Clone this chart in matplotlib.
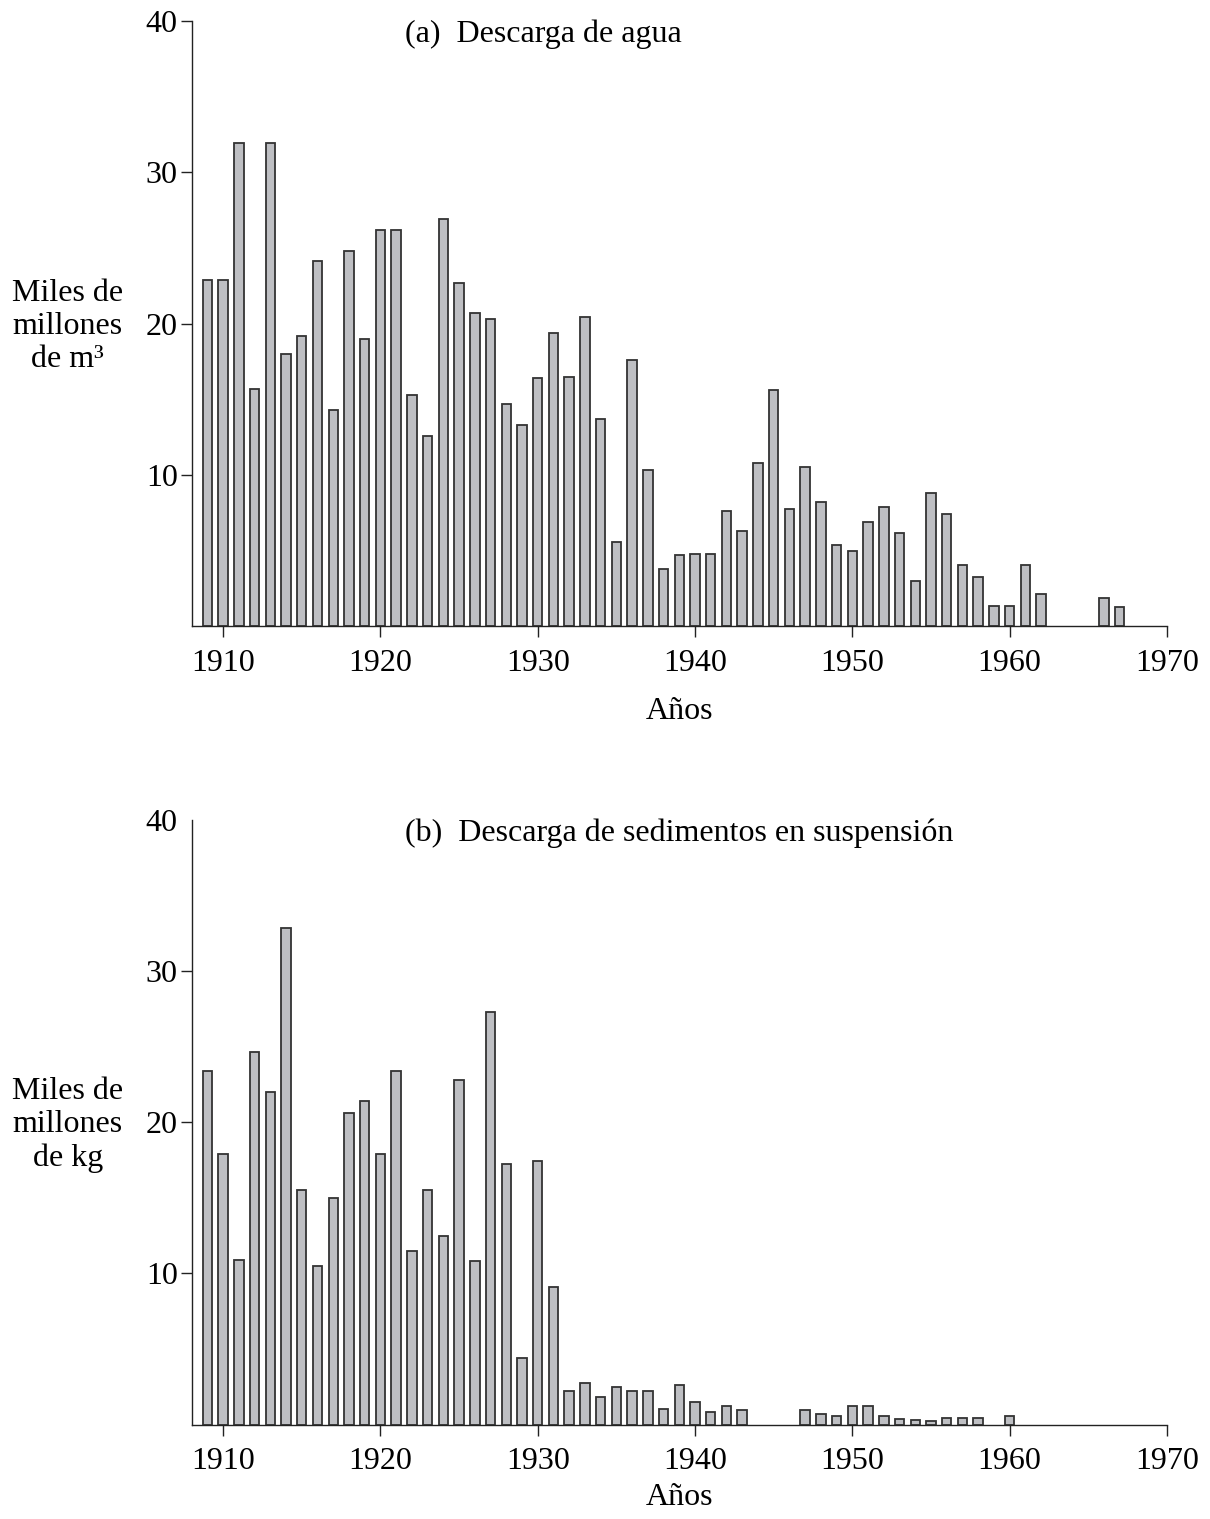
import matplotlib
matplotlib.use("Agg")
import matplotlib.pyplot as plt
import numpy as np

plt.rcParams['font.family'] = ['Liberation Serif', 'DejaVu Serif']

# (a) water discharge, thousands of millions of m3
years_a = list(range(1909, 1963)) + [1966, 1967]
agua = [22.9, 22.9, 31.9, 15.7, 31.9, 18.0, 19.2, 24.1, 14.3, 24.8,
        19.0, 26.2, 26.2, 15.3, 12.6, 26.9, 22.7, 20.7, 20.3, 14.7,
        13.3, 16.4, 19.4, 16.5, 20.4, 13.7, 5.6, 17.6, 10.3, 3.8,
        4.7, 4.8, 4.8, 7.6, 6.3, 10.8, 15.6, 7.75, 10.5, 8.2,
        5.4, 5.0, 6.9, 7.9, 6.2, 3.0, 8.8, 7.4, 4.05, 3.25,
        1.35, 1.35, 4.05, 2.15, 1.85, 1.3]

# (b) suspended sediment discharge, thousands of millions of kg
years_b = list(range(1909, 1944)) + list(range(1947, 1959)) + [1960]
sedimentos = [23.4, 17.9, 10.9, 24.6, 22.0, 32.8, 15.5, 10.5, 14.95, 20.6,
              21.4, 17.9, 23.4, 11.5, 15.5, 12.5, 22.8, 10.8, 27.3, 17.2,
              4.4, 17.4, 9.1, 2.23, 2.76, 1.85, 2.47, 2.23, 2.23, 1.04,
              2.6, 1.5, 0.86, 1.21, 0.95,
              0.95, 0.71, 0.57, 1.21, 1.21, 0.6, 0.38, 0.31, 0.26, 0.42,
              0.44, 0.42,
              0.6]

titulos = ["(a)  Descarga de agua", "(b)  Descarga de sedimentos en suspensión"]
ylabels = ["Miles de\nmillones\nde m³", "Miles de\nmillones\nde kg"]

fig = plt.figure(figsize=(12.1, 15.19), dpi=100)
ax1 = fig.add_axes([0.1584, 0.5876, 0.806, 0.3988])
ax2 = fig.add_axes([0.1584, 0.0621, 0.806, 0.3984])

fs = 23
for ax, yrs, vals, tit, yl, lp in [(ax1, years_a, agua, titulos[0], ylabels[0], 14),
                                   (ax2, years_b, sedimentos, titulos[1], ylabels[1], 5)]:
    ax.bar(yrs, vals, width=0.6, color='#bebfc3', edgecolor='#333333', linewidth=1.3)
    ax.set_xlim(1908, 1970)
    ax.set_ylim(0, 40)
    ax.set_xticks(range(1910, 1971, 10))
    ax.set_yticks([10, 20, 30, 40])
    for s in ['top', 'right']:
        ax.spines[s].set_visible(False)
    for s in ['left', 'bottom']:
        ax.spines[s].set_linewidth(1.0)
        ax.spines[s].set_color('#222222')
    ax.tick_params(axis='both', direction='out', length=8, width=1.0,
                   color='#222222', labelsize=fs)
    ax.tick_params(axis='x', pad=8)
    ax.tick_params(axis='y', pad=2)
    ax.set_xlabel("Años", fontsize=fs, labelpad=lp)
    ax.text(0.2187, 0.978, tit, transform=ax.transAxes, fontsize=fs,
            ha='left', va='center')
    ax.text(-0.127, 0.495, yl, transform=ax.transAxes, fontsize=fs,
            ha='center', va='center', multialignment='center', linespacing=1.2)

ax2.yaxis.get_major_ticks()[-1].tick1line.set_visible(False)

fig.savefig("out.png", dpi=100)
